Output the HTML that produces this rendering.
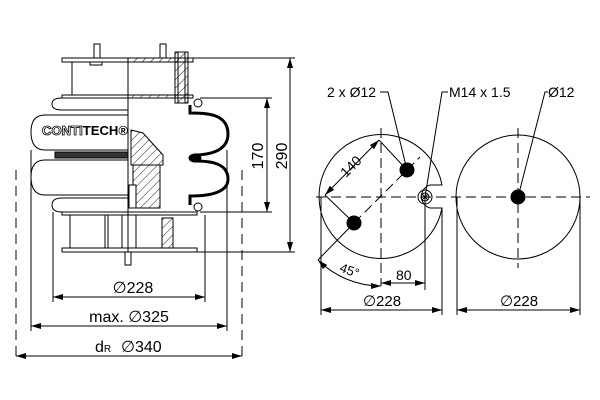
<!DOCTYPE html>
<html><head><meta charset="utf-8"><style>
html,body{margin:0;padding:0;background:#fff;}
svg{display:block;}
text{font-family:"Liberation Sans",sans-serif;fill:#000;}
</style></head><body>
<svg width="600" height="400" viewBox="0 0 600 400" xmlns="http://www.w3.org/2000/svg">
<defs>
<pattern id="h" width="6" height="6" patternUnits="userSpaceOnUse" patternTransform="rotate(45)">
<line x1="0" y1="0" x2="0" y2="6" stroke="#000" stroke-width="0.9"/></pattern>
<marker id="a" viewBox="0 0 10 6" refX="10" refY="3" markerWidth="10" markerHeight="6" orient="auto-start-reverse" markerUnits="userSpaceOnUse"><path d="M0,0L10,3L0,6z" fill="#000"/></marker>
</defs>
<g fill="none" stroke="#000" stroke-width="1">
<rect x="94" y="44" width="6" height="14" fill="#fff"/>
<rect x="160" y="44" width="6" height="14" fill="#fff"/>
<rect x="90" y="62" width="12" height="3"/>
<rect x="62" y="58" width="131" height="4" fill="#fff"/>
<rect x="128" y="58" width="47" height="4" fill="url(#h)"/>
<line x1="72" y1="62" x2="72" y2="95"/>
<rect x="62" y="95" width="131" height="3" fill="#fff"/>
<rect x="128" y="95" width="47" height="3" fill="url(#h)"/>
<rect x="175" y="52" width="13" height="51" fill="url(#h)"/>
<rect x="178" y="52" width="7" height="51"/>
<path d="M128,98 L62,98 Q52,98 52,104 Q52,110 62,110 L128,110"/>
<path d="M128,115 L45,115 Q31,115 31,132 Q31,150 45,150 L128,150" fill="#fff"/>
<rect x="55" y="152" width="73" height="6" fill="#333"/>
<path d="M128,160 L45,160 Q31,160 31,177 Q31,195 45,195 L128,195" fill="#fff"/>
<path d="M128,198 L62,198 Q52,198 52,205 Q52,212 62,212 L128,212"/>
<rect x="62" y="212" width="135" height="3" fill="#fff"/>
<rect x="62" y="248" width="135" height="4" fill="#fff"/>
<line x1="70" y1="215" x2="70" y2="248"/>
<line x1="105" y1="215" x2="105" y2="248"/>
<line x1="108" y1="215" x2="108" y2="248"/>
<rect x="162" y="218" width="11" height="30" fill="url(#h)"/>
<rect x="122" y="215" width="14" height="33"/>
<rect x="125" y="252" width="6" height="13"/>
<line x1="128" y1="58" x2="128" y2="252"/>
<path d="M131,130 L143,133 L163,155 L163,165 L131,165 Z" fill="url(#h)"/>
<path d="M133,165 L160,165 L160,208 L133,208 Z" fill="url(#h)"/>
<rect x="129" y="185" width="7" height="23" fill="#fff"/>
<path d="M190,105 L190,113 C205,113 228,113 228,134 C228,153 205,155 194,155 M194,161 C205,161 228,161 228,179 C228,194 205,196 190,196 L190,205" stroke-width="3"/>
<ellipse cx="195" cy="158" rx="6" ry="4" fill="#000"/>
<circle cx="198" cy="103" r="4"/>
<circle cx="198" cy="207" r="4"/>
<line x1="193" y1="58" x2="295" y2="58"/>
<line x1="197" y1="252" x2="295" y2="252"/>
<line x1="200" y1="98" x2="272" y2="98"/>
<line x1="200" y1="212" x2="272" y2="212"/>
<line x1="267" y1="98" x2="267" y2="212" marker-start="url(#a)" marker-end="url(#a)"/>
<line x1="290" y1="58" x2="290" y2="252" marker-start="url(#a)" marker-end="url(#a)"/>
<line x1="53" y1="212" x2="53" y2="302"/>
<line x1="205" y1="215" x2="205" y2="302"/>
<line x1="31" y1="150" x2="31" y2="331"/>
<line x1="227" y1="150" x2="227" y2="331"/>
<line x1="16" y1="170" x2="16" y2="362" stroke-dasharray="10,6"/>
<line x1="242" y1="170" x2="242" y2="362" stroke-dasharray="10,6"/>
<line x1="53" y1="297" x2="205" y2="297" marker-start="url(#a)" marker-end="url(#a)"/>
<line x1="31" y1="326" x2="227" y2="326" marker-start="url(#a)" marker-end="url(#a)"/>
<line x1="16" y1="356" x2="242" y2="356" marker-start="url(#a)" marker-end="url(#a)"/>

<path d="M442,185 L430,185 A12,12 0 0 0 430,208 L442,208 A62,62 0 1 1 442,185 Z"/>
<circle cx="425" cy="197" r="7"/>
<circle cx="425" cy="197" r="4"/>
<line x1="422" y1="194" x2="428" y2="200"/><line x1="428" y1="194" x2="422" y2="200"/>
<circle cx="407" cy="170" r="7" fill="#000"/>
<circle cx="354" cy="223" r="7" fill="#000"/>
<circle cx="518" cy="197" r="62"/>
<circle cx="518" cy="197" r="7" fill="#000"/>
<line x1="316" y1="197" x2="590" y2="197" stroke-dasharray="10,5"/>
<line x1="381" y1="128" x2="381" y2="286" stroke-dasharray="10,5"/>
<line x1="518" y1="128" x2="518" y2="268" stroke-dasharray="10,5"/>
<line x1="354" y1="223" x2="420" y2="157" stroke-dasharray="10,5"/>
<line x1="318" y1="260" x2="354" y2="223"/>
<line x1="407" y1="170" x2="379" y2="140"/>
<line x1="354" y1="223" x2="325" y2="195"/>
<line x1="325" y1="195" x2="379" y2="140" marker-start="url(#a)" marker-end="url(#a)"/>
<path d="M318,260 A89,89 0 0 0 381,286" marker-start="url(#a)" marker-end="url(#a)"/>
<line x1="425" y1="197" x2="425" y2="290"/>
<line x1="381" y1="283" x2="425" y2="283" marker-start="url(#a)" marker-end="url(#a)"/>
<line x1="321" y1="197" x2="321" y2="315"/>
<line x1="442" y1="208" x2="442" y2="315"/>
<line x1="457" y1="197" x2="457" y2="315"/>
<line x1="580" y1="197" x2="580" y2="315"/>
<line x1="321" y1="310" x2="442" y2="310" marker-start="url(#a)" marker-end="url(#a)"/>
<line x1="457" y1="310" x2="580" y2="310" marker-start="url(#a)" marker-end="url(#a)"/>
<polyline points="380,92 388,92 407,170"/>
<polyline points="448,92 442,92 425,197"/>
<polyline points="548,92 545,92 518,197"/>
</g>
<text x="42" y="135" font-size="13" font-weight="bold" textLength="86" lengthAdjust="spacingAndGlyphs"><tspan fill="#fff" stroke="#000" stroke-width="0.8">CONTI</tspan>TECH®</text>
<text x="0" y="0" font-size="16" text-anchor="middle" transform="translate(263,156) rotate(-90)">170</text>
<text x="0" y="0" font-size="16" text-anchor="middle" transform="translate(287,156) rotate(-90)">290</text>
<text x="133" y="293" font-size="16" text-anchor="middle">∅228</text>
<text x="129" y="322" font-size="16" text-anchor="middle">max. ∅325</text>
<text x="95" y="352" font-size="16">d<tspan font-size="10">R</tspan></text>
<text x="121" y="352" font-size="16">∅340</text>
<text x="327" y="97" font-size="14">2 x Ø12</text>
<text x="449" y="97" font-size="14">M14 x 1.5</text>
<text x="548" y="97" font-size="14">Ø12</text>
<text x="0" y="0" font-size="14" transform="translate(346,178) rotate(-45)">140</text>
<text x="340" y="275" font-size="13" transform="rotate(20 350 270)">45°</text>
<text x="396" y="280" font-size="14">80</text>
<text x="382" y="306" font-size="15" text-anchor="middle">∅228</text>
<text x="519" y="306" font-size="15" text-anchor="middle">∅228</text>
</svg>
</body></html>
